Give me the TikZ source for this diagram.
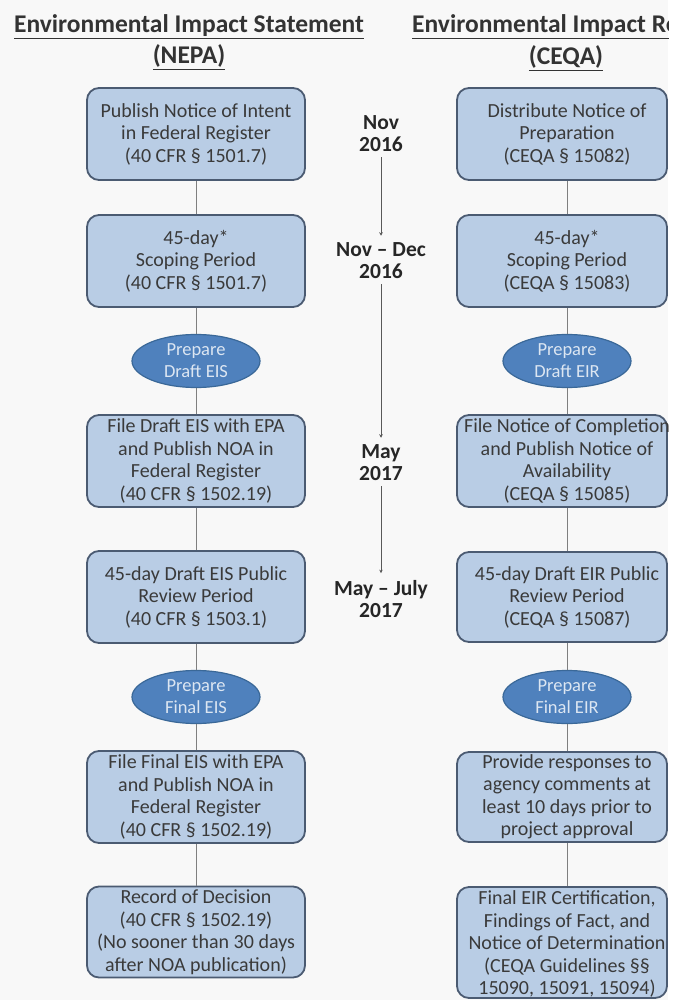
\documentclass[tikz,border=0pt]{standalone}
\usepackage{fontspec}
\setmainfont{Carlito}
\usetikzlibrary{arrows.meta,shapes.geometric}
\definecolor{boxfill}{HTML}{B9CDE5}
\definecolor{boxline}{HTML}{4B5B72}
\definecolor{ellfill}{HTML}{4F81BD}
\definecolor{ellline}{HTML}{3A6898}
\definecolor{elltext}{HTML}{DCE6F2}
\definecolor{txt}{HTML}{3A3A3A}
\definecolor{conn}{HTML}{7F7F7F}
\definecolor{bgc}{HTML}{F8F8F8}
\begin{document}
\begin{tikzpicture}[x=1pt,y=-1pt,
  stepbox/.style={draw=boxline, line width=1.8pt, fill=boxfill, rounded corners=12pt,
    minimum width=218pt, minimum height=92pt, align=center, text=txt,
    font=\fontsize{20}{22.5}\selectfont, inner sep=0pt},
  rbox/.style={draw=boxline, line width=1.8pt, fill=boxfill, rounded corners=12pt,
    minimum width=210pt, minimum height=92pt, inner sep=0pt},
  rtext/.style={align=center, text=txt, font=\fontsize{20}{22.5}\selectfont, inner sep=0pt},
  prep/.style={ellipse, draw=ellline, line width=1.2pt, fill=ellfill, minimum width=128pt,
    minimum height=53pt, inner sep=0pt, align=center, text=elltext,
    font=\fontsize{18.5}{22}\selectfont},
  datelbl/.style={align=center, text=black!85, font=\bfseries\fontsize{21.5}{22}\selectfont, inner sep=0pt},
  head/.style={align=center, text=black!80, font=\bfseries\fontsize{25.5}{31}\selectfont, inner sep=0pt},
  link/.style={draw=conn, line width=0.9pt},
  tline/.style={draw=black!65, line width=0.9pt, -{Stealth[length=3.5pt,width=3.5pt]}},
]
\useasboundingbox (0,0) rectangle (684,1000);
\fill[white] (0,0) rectangle (684,1000);
\fill[bgc] (0,0) rectangle (668,1000);

% headers
\node[head] (hl) at (189,42) {\underline{Environmental Impact Statement}\\\underline{(NEPA)}};
\node[head, anchor=west] (hr1) at (412,27) {\underline{Environmental Impact Report}};
\node[head] (hr2) at (566,58) {\underline{(CEQA)}};

% left column
\node[stepbox] (l1) at (196,134) {Publish Notice of Intent\\in Federal Register\\(40 CFR § 1501.7)};
\node[stepbox] (l2) at (196,261) {45-day*\\Scoping Period\\(40 CFR § 1501.7)};
\node[prep] (e1) at (196,361) {Prepare\\Draft EIS};
\node[stepbox] (l3) at (196,461) {File Draft EIS with EPA\\and Publish NOA in\\Federal Register\\(40 CFR § 1502.19)};
\node[stepbox] (l4) at (196,597) {45-day Draft EIS Public\\Review Period\\(40 CFR § 1503.1)};
\node[prep] (e2) at (196,697) {Prepare\\Final EIS};
\node[stepbox] (l5) at (196,797) {File Final EIS with EPA\\and Publish NOA in\\Federal Register\\(40 CFR § 1502.19)};
\node[stepbox, minimum height=91pt] (l6) at (196,932) {Record of Decision\\(40 CFR § 1502.19)\\(No sooner than 30 days\\after NOA publication)};

\draw[link] (l1) -- (l2);
\draw[link] (l2) -- (e1);
\draw[link] (e1) -- (l3);
\draw[link] (l3) -- (l4);
\draw[link] (l4) -- (e2);
\draw[link] (e2) -- (l5);
\draw[link] (l5) -- (l6);

% right column
\node[rbox] (r1) at (562,134) {};
\node[rbox] (r2) at (562,261) {};
\node[prep] (f1) at (567,361) {Prepare\\Draft EIR};
\node[rbox] (r3) at (562,461) {};
\node[rbox, minimum height=90pt] (r4) at (562,597) {};
\node[prep] (f2) at (567,697) {Prepare\\Final EIR};
\node[rbox, minimum height=90pt] (r5) at (562,797) {};
\node[rbox, minimum height=111pt] (r6) at (562,942.5) {};

\node[rtext] (r1t) at (567,134) {Distribute Notice of\\Preparation\\(CEQA § 15082)};
\node[rtext] (r2t) at (567,261) {45-day*\\Scoping Period\\(CEQA § 15083)};
\node[rtext] (r3t) at (567,461) {File Notice of Completion\\and Publish Notice of\\Availability\\(CEQA § 15085)};
\node[rtext] (r4t) at (567,597) {45-day Draft EIR Public\\Review Period\\(CEQA § 15087)};
\node[rtext] (r5t) at (567,797) {Provide responses to\\agency comments at\\least 10 days prior to\\project approval};
\node[rtext] (r6t) at (567,944) {Final EIR Certification,\\Findings of Fact, and\\Notice of Determination\\(CEQA Guidelines §§\\15090, 15091, 15094)};

\draw[link] (r1.south -| f1) -- (r2.north -| f1);
\draw[link] (r2.south -| f1) -- (f1);
\draw[link] (f1) -- (r3.north -| f1);
\draw[link] (r3.south -| f1) -- (r4.north -| f1);
\draw[link] (r4.south -| f1) -- (f2);
\draw[link] (f2) -- (r5.north -| f1);
\draw[link] (r5.south -| f1) -- (r6.north -| f1);

% timeline
\node[datelbl] (d1) at (381,134) {Nov\\2016};
\node[datelbl] (d2) at (381,261) {Nov -- Dec\\2016};
\node[datelbl] (d3) at (381,463) {May\\2017};
\node[datelbl] (d4) at (381,599) {May -- July\\2017};
\draw[tline] ([yshift=-5pt]d1.south) -- ([yshift=7pt]d2.north);
\draw[tline] ([yshift=-5pt]d2.south) -- ([yshift=7pt]d3.north);
\draw[tline] ([yshift=-5pt]d3.south) -- ([yshift=7pt]d4.north);

% cut at right edge
\fill[white] (668.5,0) rectangle (684,1000);
\end{tikzpicture}
\end{document}
